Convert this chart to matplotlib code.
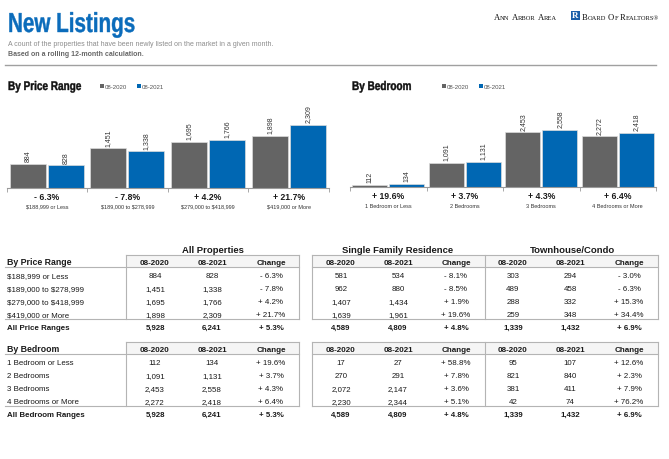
import matplotlib
matplotlib.use("Agg")
import matplotlib.pyplot as plt
from matplotlib.font_manager import FontProperties
from matplotlib.patches import Rectangle, PathPatch
from matplotlib.textpath import TextPath
from matplotlib.transforms import Affine2D

# data
years = ["08-2020", "08-2021"]

price_labels = ["$188,999 or Less", "$189,000 to $278,999", "$279,000 to $418,999", "$419,000 or More"]
price_all_2020 = [884, 1451, 1695, 1898]
price_all_2021 = [828, 1338, 1766, 2309]
price_all_chg = [-6.3, -7.8, 4.2, 21.7]
price_sfr_2020 = [581, 962, 1407, 1639]
price_sfr_2021 = [534, 880, 1434, 1961]
price_sfr_chg = [-8.1, -8.5, 1.9, 19.6]
price_th_2020 = [303, 489, 288, 259]
price_th_2021 = [294, 458, 332, 348]
price_th_chg = [-3.0, -6.3, 15.3, 34.4]

bed_labels = ["1 Bedroom or Less", "2 Bedrooms", "3 Bedrooms", "4 Bedrooms or More"]
bed_all_2020 = [112, 1091, 2453, 2272]
bed_all_2021 = [134, 1131, 2558, 2418]
bed_all_chg = [19.6, 3.7, 4.3, 6.4]
bed_sfr_2020 = [17, 270, 2072, 2230]
bed_sfr_2021 = [27, 291, 2147, 2344]
bed_sfr_chg = [58.8, 7.8, 3.6, 5.1]
bed_th_2020 = [95, 821, 381, 42]
bed_th_2021 = [107, 840, 411, 74]
bed_th_chg = [12.6, 2.3, 7.9, 76.2]

# totals row (same for both tables)
tot_all = (5928, 6241, 5.3)
tot_sfr = (4589, 4809, 4.8)
tot_th = (1339, 1432, 6.9)

GRAY = "#646464"
BLUE = "#0067b3"
TXT = "#1a1a1a"
LINE = "#b4b4b4"

SANS = ["Liberation Sans", "DejaVu Sans"]
SERIF = ["Liberation Serif", "DejaVu Serif"]
plt.rcParams["font.family"] = SANS
plt.rcParams["text.parse_math"] = False  # keep the $ signs literal

W, H = 669, 460
fig = plt.figure(figsize=(W / 100, H / 100), dpi=100)
bg = fig.add_axes([0, 0, 1, 1])
bg.set_xlim(0, W)
bg.set_ylim(H, 0)
bg.axis("off")


def fmt_chg(c):
    return f"{'+' if c >= 0 else '-'} {abs(c):.1f}%"


def cond_text(x, y, s, em, sx, color):
    # condensed bold heading: squeeze a text path horizontally
    tp = TextPath((0, 0), s, size=em, prop=FontProperties(family="Liberation Sans", weight="bold"))
    tr = Affine2D().scale(sx, -1).translate(x, y) + bg.transData
    bg.add_patch(PathPatch(tp, transform=tr, facecolor=color, edgecolor=color, lw=0.3))


# ---- header ----
cond_text(8, 33, "New Listings", 27.5, 0.75, "#0b6cbb")
bg.text(8, 46, "A count of the properties that have been newly listed on the market in a given month.",
        fontsize=5.0, color="#8c8c8c", va="baseline")
bg.text(8, 56, "Based on a rolling 12-month calculation.", fontsize=5.0, fontweight="bold",
        color="#666666", va="baseline")
bg.plot([5, 656], [66, 66], color="#a0a0a0", lw=1.0)

# logo in small caps
rend = fig.canvas.get_renderer()


def small_caps(x, y, text, big=6.2, small=4.7):
    for w in text.split():
        t = bg.text(x, y, w[0], family=SERIF, fontsize=big, color="#111111", va="baseline")
        x += t.get_window_extent(rend).width
        if len(w) > 1:
            t = bg.text(x, y, w[1:].upper(), family=SERIF, fontsize=small, color="#111111", va="baseline")
            x += t.get_window_extent(rend).width
        x += 2.0
    return x


small_caps(494, 19.5, "Ann Arbor Area")
bg.add_patch(Rectangle((571, 12), 9, 9, facecolor="#1a5ea8", lw=0))
bg.text(575.5, 16.5, "R", color="white", family=SERIF, fontsize=6.5, fontweight="bold", ha="center", va="center")
small_caps(582, 19.5, "Board Of Realtors®")


# ---- bar charts ----
def px_axes(left, top, right, bottom):
    return fig.add_axes([left / W, 1 - bottom / H, (right - left) / W, (bottom - top) / H])


def bar_chart(ax, cats, v20, v21, chg, bw, off, ymax):
    x = range(len(cats))
    b1 = ax.bar([i - off for i in x], v20, bw, color=GRAY, edgecolor="#dcdcdc", linewidth=0.5)
    b2 = ax.bar([i + off for i in x], v21, bw, color=BLUE, edgecolor="#dcdcdc", linewidth=0.5)
    for bars, vals in ((b1, v20), (b2, v21)):
        for b, v in zip(bars, vals):
            ax.annotate(f"{v:,}", (b.get_x() + b.get_width() / 2, v), xytext=(0, 2),
                        textcoords="offset points", rotation=90, ha="center", va="bottom",
                        fontsize=5, color="#333333")
    for i, (c, lab) in enumerate(zip(chg, cats)):
        ax.annotate(fmt_chg(c), (i, 0), xytext=(0, -5.8), textcoords="offset points",
                    ha="center", va="center", fontsize=6.2, fontweight="bold", color=TXT,
                    annotation_clip=False)
        ax.annotate(lab, (i, 0), xytext=(0, -13), textcoords="offset points",
                    ha="center", va="center", fontsize=4.0, color="#333333", annotation_clip=False)
    ax.set_xlim(-0.5, len(cats) - 0.5)
    ax.set_ylim(0, ymax)
    ax.set_facecolor("none")
    for s in ("top", "right", "left"):
        ax.spines[s].set_visible(False)
    ax.spines["bottom"].set_color("#9a9a9a")
    ax.spines["bottom"].set_linewidth(0.8)
    ax.set_yticks([])
    ax.set_xticks([i - 0.5 for i in range(len(cats) + 1)])
    ax.set_xticklabels([])
    ax.tick_params(axis="x", length=3, width=0.6, color="#9a9a9a", direction="out")


ax1 = px_axes(6.5, 100, 329, 189)
bar_chart(ax1, price_labels, price_all_2020, price_all_2021, price_all_chg, 0.447, 0.236, 3262)
ax2 = px_axes(350, 100, 656, 188)
bar_chart(ax2, bed_labels, bed_all_2020, bed_all_2021, bed_all_chg, 0.457, 0.242, 3949)

for title, tx, lx in (("By Price Range", 8, 100), ("By Bedroom", 352, 442)):
    cond_text(tx, 91, title, 12.5, 0.8, "#111111")
    bg.add_patch(Rectangle((lx, 85), 3.5, 3.5, facecolor=GRAY, lw=0))
    bg.text(lx + 4.5, 88.6, years[0], fontsize=4.4, color="#555555", va="baseline")
    bg.add_patch(Rectangle((lx + 37, 85), 3.5, 3.5, facecolor=BLUE, lw=0))
    bg.text(lx + 41.5, 88.6, years[1], fontsize=4.4, color="#555555", va="baseline")

# ---- tables ----
groups = [
    ("All Properties", (126, 299), (155, 212, 271)),
    ("Single Family Residence", (312, 485), (341, 398, 456)),
    ("Townhouse/Condo", (485, 658), (513, 570, 629)),
]
bg.text(213, 253, groups[0][0], fontsize=6.8, fontweight="bold", color=TXT, ha="center", va="baseline")
bg.text(398, 253, groups[1][0], fontsize=6.8, fontweight="bold", color=TXT, ha="center", va="baseline")
bg.text(572, 253, groups[2][0], fontsize=6.8, fontweight="bold", color=TXT, ha="center", va="baseline")

BL = "baseline"
D = 2.8  # half cap height, centre rows on their baseline


def table(top, title, labels, total_label, series, totals):
    hdr_b = top + 12
    rows_y = [hdr_b + 7 + 13 * i + D for i in range(4)]
    bottom = hdr_b + 52
    tot_y = bottom + 7 + D
    # header shading and box lines
    for (_, (l, r), _) in groups:
        bg.add_patch(Rectangle((l, top), r - l, hdr_b - top, facecolor="#f5f5f5", edgecolor="none"))
    for seg in ((5, 299), (312, 658)):
        bg.plot(seg, [hdr_b, hdr_b], color=LINE, lw=0.8)
        bg.plot(seg, [bottom, bottom], color=LINE, lw=0.8)
    for seg in ((126, 299), (312, 658)):
        bg.plot(seg, [top, top], color=LINE, lw=0.8)
    for xv in (126, 299, 312, 485, 658):
        bg.plot([xv, xv], [top, bottom], color=LINE, lw=0.8)
    bg.text(7, hdr_b - 2.5, title, fontsize=6.3, fontweight="bold", color=TXT, va=BL)
    for (_, _, cols) in groups:
        for cx, h in zip(cols, years + ["Change"]):
            bg.text(cx, top + 6 + D, h, fontsize=5.8, fontweight="bold", color=TXT, ha="center", va=BL)
    for y, lab in zip(rows_y, labels):
        bg.text(7, y, lab, fontsize=5.7, color=TXT, va=BL)
    bg.text(7, tot_y, total_label, fontsize=5.7, fontweight="bold", color=TXT, va=BL)
    for (_, _, cols), (a, b, c), (ta, tb, tc) in zip(groups, series, totals):
        for i, y in enumerate(rows_y):
            bg.text(cols[0], y, f"{a[i]:,}", fontsize=5.7, color=TXT, ha="center", va=BL)
            bg.text(cols[1], y, f"{b[i]:,}", fontsize=5.7, color=TXT, ha="center", va=BL)
            bg.text(cols[2], y, fmt_chg(c[i]), fontsize=5.7, color=TXT, ha="center", va=BL)
        bg.text(cols[0], tot_y, f"{ta:,}", fontsize=5.7, fontweight="bold", color=TXT, ha="center", va=BL)
        bg.text(cols[1], tot_y, f"{tb:,}", fontsize=5.7, fontweight="bold", color=TXT, ha="center", va=BL)
        bg.text(cols[2], tot_y, fmt_chg(tc), fontsize=5.7, fontweight="bold", color=TXT, ha="center", va=BL)


table(256, "By Price Range", price_labels, "All Price Ranges",
      [(price_all_2020, price_all_2021, price_all_chg),
       (price_sfr_2020, price_sfr_2021, price_sfr_chg),
       (price_th_2020, price_th_2021, price_th_chg)],
      [tot_all, tot_sfr, tot_th])
table(343, "By Bedroom", bed_labels, "All Bedroom Ranges",
      [(bed_all_2020, bed_all_2021, bed_all_chg),
       (bed_sfr_2020, bed_sfr_2021, bed_sfr_chg),
       (bed_th_2020, bed_th_2021, bed_th_chg)],
      [tot_all, tot_sfr, tot_th])

fig.savefig("out.png", dpi=100)
